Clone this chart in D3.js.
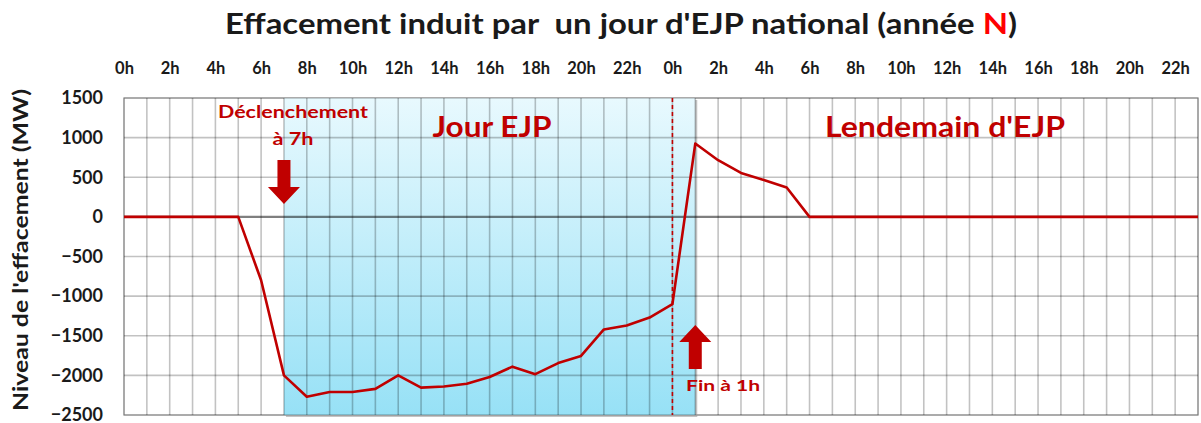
<!DOCTYPE html>
<html>
<head>
<meta charset="utf-8">
<script src="https://cdn.jsdelivr.net/npm/d3@7"></script>
<style>
  body { margin: 0; background: #fff; }
  svg { display: block; font-family: Lato, "Open Sans", sans-serif; font-weight: bold; }
</style>
</head>
<body>
<svg id="chart" width="1201" height="423"></svg>
<script>
// hours on two days : 0..23 jour EJP, 24..47 lendemain
var hours = [0, 1, 2, 3, 4, 5, 6, 7, 8, 9, 10, 11, 12, 13, 14, 15, 16, 17, 18, 19, 20, 21, 22, 23,
             24, 25, 26, 27, 28, 29, 30, 31, 32, 33, 34, 35, 36, 37, 38, 39, 40, 41, 42, 43, 44, 45, 46, 47];

// effacement en MW
var effacement = [0, 0, 0, 0, 0, 0, -800, -2000, -2270, -2210, -2210, -2170, -2000, -2155, -2140, -2105,
                  -2020, -1890, -1985, -1845, -1755, -1420, -1370, -1270, -1100, 925, 715, 555, 465, 370, 0, 0,
                  0, 0, 0, 0, 0, 0, 0, 0, 0, 0, 0, 0, 0, 0, 0, 0];

var xTickLabels = ['0h', '2h', '4h', '6h', '8h', '10h', '12h', '14h', '16h', '18h', '20h', '22h',
                   '0h', '2h', '4h', '6h', '8h', '10h', '12h', '14h', '16h', '18h', '20h', '22h'];
var yTicks = [-2500, -2000, -1500, -1000, -500, 0, 500, 1000, 1500];

var debutEJP = 7, finEJP = 25, minuit = 24;

var pLeft = 124, pRight = 1198, pTop = 98, pBottom = 415;
var red = '#c00000';

var svg = d3.select('#chart');

var x = d3.scaleLinear().domain([0, 47]).range([pLeft, pRight]);
var y = d3.scaleLinear().domain([-2500, 1500]).range([pBottom, pTop]);

// fond bleu du jour EJP
var defs = svg.append('defs');
var grad = defs.append('linearGradient')
  .attr('id', 'bleu')
  .attr('x1', 0).attr('y1', 0).attr('x2', 0).attr('y2', 1);
grad.append('stop').attr('offset', '0%').attr('stop-color', '#e8f9fe');
grad.append('stop').attr('offset', '100%').attr('stop-color', '#97e1f6');

svg.append('rect')
  .attr('x', pLeft).attr('y', pTop)
  .attr('width', pRight - pLeft).attr('height', pBottom - pTop)
  .attr('fill', '#fff')
  .attr('stroke', '#d0d0d0')
  .attr('stroke-width', 2);

// petite ombre sous la zone bleue
svg.append('rect')
  .attr('x', x(debutEJP) + 2).attr('y', pTop + 2)
  .attr('width', x(finEJP) - x(debutEJP)).attr('height', pBottom - pTop)
  .attr('fill', '#c4c4c4');

svg.append('rect')
  .attr('x', x(debutEJP)).attr('y', pTop)
  .attr('width', x(finEJP) - x(debutEJP)).attr('height', pBottom - pTop)
  .attr('fill', 'url(#bleu)');

// grille
svg.append('g')
  .selectAll('line')
  .data(hours)
  .enter()
  .append('line')
  .attr('x1', function(d) { return x(d); })
  .attr('x2', function(d) { return x(d); })
  .attr('y1', pTop)
  .attr('y2', pBottom)
  .attr('stroke', '#000')
  .attr('stroke-opacity', 0.24)
  .attr('stroke-width', 1.6);

svg.append('g')
  .selectAll('line')
  .data(yTicks)
  .enter()
  .append('line')
  .attr('x1', pLeft)
  .attr('x2', pRight)
  .attr('y1', function(d) { return y(d); })
  .attr('y2', function(d) { return y(d); })
  .attr('stroke', '#000')
  .attr('stroke-opacity', function(d) { return d === 0 ? 0.5 : 0.24; })
  .attr('stroke-width', function(d) { return d === 0 ? 2.2 : 1.6; });

// axes
var xAxis = d3.axisTop(x)
  .tickValues(d3.range(0, 48, 2))
  .tickFormat(function(d, i) { return xTickLabels[i]; })
  .tickSize(0);

svg.append('g')
  .attr('transform', 'translate(0,77)')
  .call(xAxis)
  .call(function(g) { g.select('.domain').remove(); })
  .selectAll('text')
  .attr('font-family', 'Lato, sans-serif')
  .attr('font-weight', 'bold')
  .attr('font-size', 16.5)
  .attr('fill', '#1a1a1a');

var yAxis = d3.axisLeft(y)
  .tickValues(yTicks)
  .tickFormat(d3.format('d'))
  .tickSize(0)
  .tickPadding(0);

svg.append('g')
  .attr('transform', 'translate(103,0)')
  .call(yAxis)
  .call(function(g) { g.select('.domain').remove(); })
  .selectAll('text')
  .attr('font-family', 'Lato, sans-serif')
  .attr('font-weight', 'bold')
  .attr('font-size', 18)
  .attr('fill', '#1a1a1a');

// fin du jour EJP (minuit)
svg.append('line')
  .attr('x1', x(minuit)).attr('x2', x(minuit))
  .attr('y1', pTop).attr('y2', pBottom)
  .attr('stroke', red)
  .attr('stroke-width', 1.6)
  .attr('stroke-dasharray', '4,3');

// courbe
var line = d3.line()
  .x(function(d, i) { return x(hours[i]); })
  .y(function(d) { return y(d); });

svg.append('path')
  .datum(effacement)
  .attr('d', line)
  .attr('fill', 'none')
  .attr('stroke', red)
  .attr('stroke-width', 2.6)
  .attr('stroke-linejoin', 'round');

// fleches
function arrow(cx, tip, dir) {
  // dir = 1 vers le bas, -1 vers le haut
  var head = 17 * dir, shaft = 27 * dir, hw = 16, sw = 6.5;
  var p = [
    [cx, tip],
    [cx - hw, tip - head],
    [cx - sw, tip - head],
    [cx - sw, tip - head - shaft],
    [cx + sw, tip - head - shaft],
    [cx + sw, tip - head],
    [cx + hw, tip - head]
  ];
  svg.append('path')
    .attr('d', 'M' + p.join('L') + 'Z')
    .attr('fill', red);
}
arrow(x(debutEJP), 204, 1);
arrow(x(finEJP), 325, -1);

// textes (l'image d'origine est un peu etiree en largeur)
function label(tx, ty, txt, size, w) {
  svg.append('text')
    .attr('x', tx).attr('y', ty)
    .attr('text-anchor', 'middle')
    .attr('font-size', size)
    .attr('fill', red)
    .attr('textLength', w)
    .attr('lengthAdjust', 'spacingAndGlyphs')
    .text(txt);
}
label(293, 118, 'Déclenchement', 16.5, 150);
label(293, 145, 'à 7h', 16.5, 41);
label(492, 137, 'Jour EJP', 28, 119);
label(945, 137, "Lendemain d'EJP", 29, 240);
label(723, 391, 'Fin à 1h', 16, 74);

var title = svg.append('text')
  .attr('x', 621).attr('y', 34)
  .attr('text-anchor', 'middle')
  .attr('font-size', 28)
  .attr('fill', '#1a1a1a')
  .attr('textLength', 792)
  .attr('lengthAdjust', 'spacingAndGlyphs');
title.append('tspan').text("Effacement induit par\u00a0 un jour d'EJP national (année ");
title.append('tspan').attr('fill', '#ff0000').text('N');
title.append('tspan').text(')');

svg.append('text')
  .attr('transform', 'translate(28,250) rotate(-90)')
  .attr('text-anchor', 'middle')
  .attr('font-size', 20)
  .attr('fill', '#1a1a1a')
  .attr('textLength', 322)
  .attr('lengthAdjust', 'spacingAndGlyphs')
  .text("Niveau de l'effacement (MW)");
</script>
</body>
</html>
